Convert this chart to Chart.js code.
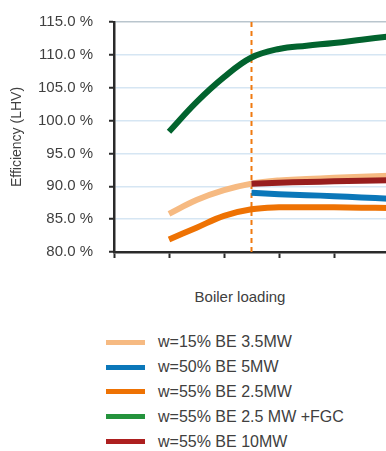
<!DOCTYPE html>
<html>
<head>
<meta charset="utf-8">
<script src="https://cdn.jsdelivr.net/npm/chart.js@4/dist/chart.umd.min.js"></script>
<style>
  html, body { margin:0; padding:0; background:#fff; overflow:hidden; width:386px; height:451px; }
  #wrap { position:relative; width:386px; height:451px; overflow:hidden; font-family:"Liberation Sans", Arial, sans-serif; }
  #chart { position:absolute; left:0; top:-3px; }
  #xTitle { position:absolute; left:140px; width:200px; top:288px; text-align:center; font-size:15px; color:#404040; }
  #legend { position:absolute; left:106px; top:330px; }
  .lg-row { display:flex; align-items:center; height:24.8px; font-size:16px; color:#404040; white-space:nowrap; }
  .lg-sw { width:39px; height:5px; margin-right:13px; }
</style>
</head>
<body>
<div id="wrap">
  <canvas id="chart" width="444" height="280"></canvas>
  <div id="xTitle">Boiler loading</div>
  <div id="legend"></div>
</div>
<script>
// ── Données ───────────────────────────────────────────────
const loadPoints   = [1, 1.5, 2, 2.5, 3, 3.5, 4, 4.5, 5];
const lateLoads    = [2.5, 3, 3.5, 4, 4.5, 5];
const markerLoad   = 2.5;

const be35   = [85.8, 87.9, 89.4, 90.4, 90.9, 91.1, 91.3, 91.45, 91.6];      // w=15% BE 3.5MW
const be5    = [89.0, 88.8, 88.65, 88.5, 88.3, 88.1];                        // w=50% BE 5MW
const be25   = [81.9, 83.7, 85.5, 86.5, 86.8, 86.8, 86.8, 86.75, 86.7];      // w=55% BE 2.5MW
const be25fgc= [98.3, 102.8, 106.6, 109.6, 110.9, 111.4, 111.8, 112.3, 112.8]; // +FGC
const be10   = [90.4, 90.55, 90.65, 90.75, 90.85, 90.9];                     // w=55% BE 10MW

const yTicks = [80, 85, 90, 95, 100, 105, 110, 115];

const SERIES = [
  { label:'w=15% BE 3.5MW',       xs:loadPoints, ys:be35,    color:'#f6ba82', legend:'#f6ba82', order:2 },
  { label:'w=50% BE 5MW',         xs:lateLoads,  ys:be5,     color:'#0b77b9', legend:'#0b77b9', order:1 },
  { label:'w=55% BE 2.5MW',       xs:loadPoints, ys:be25,    color:'#ee7203', legend:'#ee7203', order:1 },
  { label:'w=55% BE 2.5 MW +FGC', xs:loadPoints, ys:be25fgc, color:'#02632e', legend:'#24933c', order:1 },
  { label:'w=55% BE 10MW',        xs:lateLoads,  ys:be10,    color:'#981e1e', legend:'#ad1f1f', order:0 },
];

const pts = (xs, ys) => xs.map((x,i) => ({ x, y: ys[i] }));

const datasets = SERIES.map(s => ({
  label: s.label,
  data: pts(s.xs, s.ys),
  borderColor: s.color,
  backgroundColor: s.color,
  borderWidth: 6,
  pointRadius: 0,
  tension: 0.4,
  borderCapStyle: 'butt',
  order: s.order,
}));

// ligne verticale pointillée (repère)
datasets.push({
  label: 'marker',
  data: [{ x: markerLoad, y: yTicks[0] }, { x: markerLoad, y: yTicks[yTicks.length-1] }],
  borderColor: '#f07a10',
  borderWidth: 2,
  borderDash: [5, 4],
  pointRadius: 0,
  order: 10,
});

const AXIS = '#2a2a2a';

new Chart(document.getElementById('chart').getContext('2d'), {
  type: 'line',
  data: { datasets },
  options: {
    responsive: false,
    devicePixelRatio: 1,
    animation: false,
    layout: { padding: { top: 16, right: 0, left: 0, bottom: 0 } },
    plugins: { legend: { display: false }, tooltip: { enabled: false } },
    scales: {
      x: {
        type: 'linear', min: 0, max: 6,
        ticks: { display: false, stepSize: 1 },
        grid: { drawOnChartArea: false, drawTicks: true, tickLength: 6, tickColor: AXIS, tickWidth: 2 },
        border: { color: AXIS, width: 2.5 },
        afterFit: s => { s.height = 10; },
      },
      y: {
        min: 80, max: 115,
        afterBuildTicks: s => { s.ticks = yTicks.map(v => ({ value: v })); },
        ticks: {
          padding: 16,
          color: '#404040',
          font: { family: '"Liberation Sans", Arial, sans-serif', size: 15 },
          callback: v => v.toFixed(1) + ' %',
        },
        grid: {
          color: c => c.tick && c.tick.value === 115 ? '#b9c5cd' : '#d6e6f3',
          lineWidth: 1.5,
          tickLength: 5, tickColor: AXIS, tickWidth: 2,
        },
        border: { color: AXIS, width: 2.5 },
        title: {
          display: true, text: 'Efficiency (LHV)', color: '#404040', padding: 9,
          font: { family: '"Liberation Sans", Arial, sans-serif', size: 14 },
        },
        afterFit: s => { s.width = 114; },
      },
    },
  },
});

// ── Légende HTML ───────────────────────────────────────────
document.getElementById('legend').innerHTML = SERIES.map(s => `
  <div class="lg-row"><span class="lg-sw" style="background:${s.legend}"></span>${s.label}</div>`).join('');
</script>
</body>
</html>
